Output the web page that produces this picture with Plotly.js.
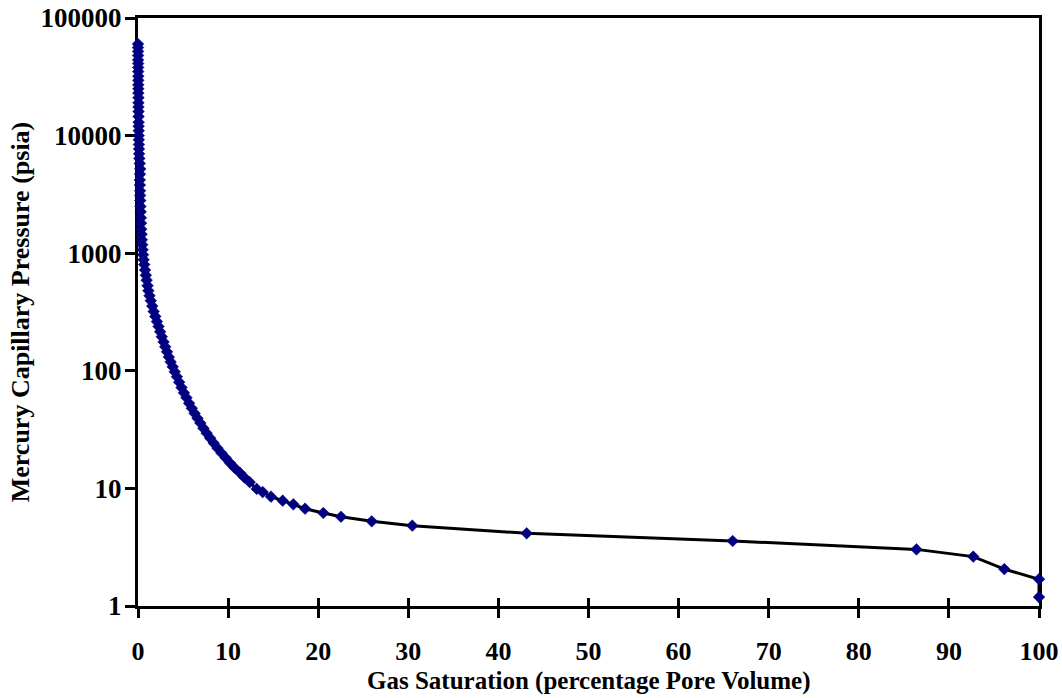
<!DOCTYPE html>
<html>
<head>
<meta charset="utf-8">
<script src="https://cdn.plot.ly/plotly-3.0.1.min.js"></script>
<style>html,body{margin:0;padding:0;background:#fff;}#chart{width:1062px;height:698px;}</style>
</head>
<body>
<div id="chart"></div>
<script>
// Gas saturation (% pore volume)
var gasSaturation = [
  0.00, 0.00, 0.01, 0.01, 0.01, 0.02, 0.02, 0.02, 0.03, 0.03,
  0.03, 0.04, 0.04, 0.05, 0.05, 0.05, 0.06, 0.06, 0.07, 0.07,
  0.08, 0.08, 0.09, 0.10, 0.11, 0.12, 0.15, 0.20, 0.25, 0.22,
  0.20, 0.21, 0.23, 0.24, 0.25, 0.27, 0.30, 0.32, 0.34, 0.36,
  0.40, 0.43, 0.47, 0.51, 0.56, 0.62, 0.69, 0.78, 0.87, 0.96,
  1.06, 1.15, 1.28, 1.42, 1.58, 1.74, 1.92, 2.10, 2.28, 2.46,
  2.64, 2.84, 3.02, 3.22, 3.42, 3.62, 3.85, 4.08, 4.32, 4.57,
  4.83, 5.10, 5.38, 5.67, 5.97, 6.28, 6.60, 6.92, 7.26, 7.62,
  8.00, 8.40, 8.82, 9.26, 9.72, 10.2, 10.7, 11.3, 11.8, 12.4,
  13.17, 13.84, 14.76, 16.06, 17.24, 18.54, 20.57, 22.53, 25.94, 30.44,
  43.14, 66.0, 86.4, 92.7, 96.15, 100, 100
];
// Mercury capillary pressure (psia)
var capillaryPressure = [
  60000, 56000, 52000, 48000, 44000, 41000, 38000, 35000, 32000, 29500,
  27000, 25000, 23000, 21000, 19000, 17500, 16000, 14500, 13000, 12000,
  11000, 10000, 9200, 8400, 7700, 7000, 6400, 5800, 5200, 4700,
  4200, 3800, 3400, 3100, 2800, 2500, 2250, 2000, 1800, 1600,
  1450, 1300, 1180, 1070, 970, 880, 800, 720, 650, 590,
  530, 480, 435, 395, 355, 320, 290, 262, 238, 215,
  195, 176, 160, 145, 131, 119, 108, 98, 89, 80,
  72, 65, 59, 53, 48, 43.5, 39.5, 36, 32.5, 29.5,
  26.8, 24.3, 22, 20, 18.2, 16.5, 15, 13.6, 12.4, 11.3,
  9.9, 9.31, 8.5, 7.86, 7.32, 6.72, 6.18, 5.74, 5.25, 4.82,
  4.15, 3.57, 3.03, 2.63, 2.06, 1.69, 1.19
];
var yTickVals = [1, 10, 100, 1000, 10000, 100000];
var yTickText = ["1", "10", "100", "1000", "10000", "100000"];
var xTickVals = [0, 10, 20, 30, 40, 50, 60, 70, 80, 90, 100];
var xTitle = 'Gas Saturation (percentage Pore Volume)';
var yTitle = 'Mercury Capillary Pressure (psia)';

var fontFam = '"Liberation Serif", "Times New Roman", serif';

var traces = [
  {
    x: [], y: [], xaxis: 'x2', yaxis: 'y', type: 'scatter', mode: 'markers',
    showlegend: false, hoverinfo: 'skip'
  },
  {
    x: gasSaturation,
    y: capillaryPressure,
    type: 'scatter',
    mode: 'lines+markers',
    cliponaxis: false,
    line: {color: '#000000', width: 3},
    marker: {symbol: 'diamond', size: 9, color: '#000080', line: {color: '#000080', width: 0.5}},
    showlegend: false
  }
];

var layout = {
  width: 1062,
  height: 698,
  margin: {l: 138, r: 23, t: 18, b: 92},
  paper_bgcolor: '#ffffff',
  plot_bgcolor: '#ffffff',
  font: {family: fontFam, color: '#000000'},
  showlegend: false,
  xaxis: {
    range: [0, 100],
    tickvals: xTickVals,
    ticks: 'outside',
    ticklen: 9,
    tickwidth: 3,
    tickcolor: '#000',
    showline: true,
    linecolor: '#000',
    linewidth: 3,
    mirror: true,
    showgrid: false,
    zeroline: false,
    layer: 'below traces',
    ticklabelstandoff: 11,
    tickfont: {family: fontFam, size: 26, color: '#000', weight: 'bold'}
  },
  xaxis2: {
    range: [0, 100],
    overlaying: 'x',
    anchor: 'y',
    side: 'bottom',
    tickvals: xTickVals,
    ticks: 'inside',
    ticklen: 8,
    tickwidth: 3,
    tickcolor: '#000',
    showticklabels: false,
    showline: false,
    showgrid: false,
    zeroline: false,
    layer: 'below traces'
  },
  yaxis: {
    type: 'log',
    range: [0, 5],
    tickvals: yTickVals,
    ticktext: yTickText,
    ticks: 'outside',
    ticklen: 10,
    tickwidth: 3,
    tickcolor: '#000',
    showline: true,
    linecolor: '#000',
    linewidth: 3,
    mirror: true,
    showgrid: false,
    zeroline: false,
    layer: 'below traces',
    ticklabelstandoff: -2,
    tickfont: {family: fontFam, size: 27, color: '#000', weight: 'bold'},
    title: {text: '<b>' + yTitle + '</b>', font: {family: fontFam, size: 26, color: '#000'}, standoff: 4}
  },
  annotations: [
    {
      text: '<b>' + xTitle + '</b>',
      xref: 'paper', yref: 'paper',
      x: 0.5, y: -0.1276,
      xanchor: 'center', yanchor: 'middle',
      showarrow: false,
      font: {family: fontFam, size: 25, color: '#000'}
    }
  ]
};

Plotly.newPlot('chart', traces, layout, {displayModeBar: false, staticPlot: true});
</script>
</body>
</html>
